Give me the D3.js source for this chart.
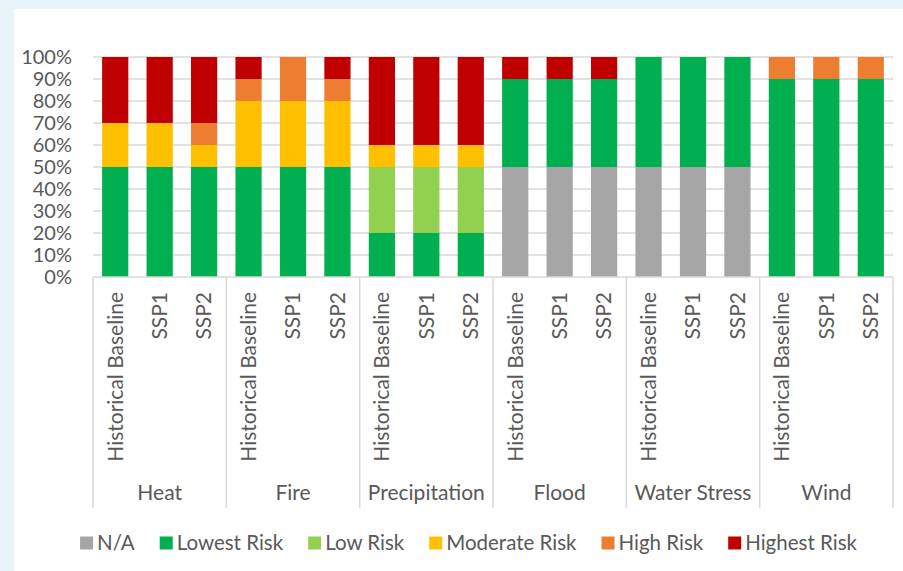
<!DOCTYPE html>
<html>
<head>
<meta charset="utf-8">
<script src="https://cdn.jsdelivr.net/npm/d3@7"></script>
<style>
  body { margin: 0; background: #e8f4fa; }
  svg { display: block; }
  text { font-family: Lato, "Open Sans", sans-serif; fill: #595959; }
</style>
</head>
<body>
<script>
// Hazards (outer axis level) and scenarios (inner axis level)
const hazards = ['Heat', 'Fire', 'Precipitation', 'Flood', 'Water Stress', 'Wind'];
const scenarios = ['Historical Baseline', 'SSP1', 'SSP2'];
const riskLevels = ['N/A', 'Lowest Risk', 'Low Risk', 'Moderate Risk', 'High Risk', 'Highest Risk'];
const riskColors = ['#a5a5a5', '#00b050', '#92d050', '#ffc000', '#ed7d31', '#c00000'];
const yTicks = [0, 0.1, 0.2, 0.3, 0.4, 0.5, 0.6, 0.7, 0.8, 0.9, 1];

// share of each risk level per bar, one array per level, bars in hazard/scenario order
const naShare      = [0, 0, 0,  0, 0, 0,  0, 0, 0,  0.5, 0.5, 0.5,  0.5, 0.5, 0.5,  0, 0, 0];
const lowestShare  = [0.5, 0.5, 0.5,  0.5, 0.5, 0.5,  0.2, 0.2, 0.2,  0.4, 0.4, 0.4,  0.5, 0.5, 0.5,  0.9, 0.9, 0.9];
const lowShare     = [0, 0, 0,  0, 0, 0,  0.3, 0.3, 0.3,  0, 0, 0,  0, 0, 0,  0, 0, 0];
const moderateShare = [0.2, 0.2, 0.1,  0.3, 0.3, 0.3,  0.1, 0.1, 0.1,  0, 0, 0,  0, 0, 0,  0, 0, 0];
const highShare    = [0, 0, 0.1,  0.1, 0.2, 0.1,  0, 0, 0,  0, 0, 0,  0, 0, 0,  0.1, 0.1, 0.1];
const highestShare = [0.3, 0.3, 0.3,  0.1, 0, 0.1,  0.4, 0.4, 0.4,  0.1, 0.1, 0.1,  0, 0, 0,  0, 0, 0];

const shares = [naShare, lowestShare, lowShare, moderateShare, highShare, highestShare];

const bars = [];
hazards.forEach((h, hi) => scenarios.forEach((s, si) => {
  const i = hi * scenarios.length + si;
  const row = { key: h + '|' + s, hazard: h, scenario: s };
  riskLevels.forEach((r, ri) => { row[r] = shares[ri][i]; });
  bars.push(row);
}));

const width = 903, height = 571;
const margin = { top: 57, right: 10, bottom: 294, left: 93 };
const plotRight = 893;
const fontSize = 21;

const svg = d3.select('body').append('svg')
  .attr('width', width)
  .attr('height', height);

// white chart panel
svg.append('rect')
  .attr('x', 14).attr('y', 9)
  .attr('width', width - 14).attr('height', height - 9)
  .attr('fill', '#fff');

const x = d3.scaleBand()
  .domain(bars.map(d => d.key))
  .range([margin.left, plotRight])
  .paddingInner(0.41)
  .paddingOuter(0.205);

const y = d3.scaleLinear()
  .domain([0, 1])
  .range([height - margin.bottom, margin.top]);

// gridlines
svg.append('g')
  .selectAll('line')
  .data(yTicks.slice(1))
  .join('line')
  .attr('x1', margin.left).attr('x2', plotRight)
  .attr('y1', d => y(d)).attr('y2', d => y(d))
  .attr('stroke', '#d9d9d9').attr('stroke-width', 1.3);

// y axis labels
const yAxis = svg.append('g')
  .attr('transform', `translate(${margin.left},0)`)
  .call(d3.axisLeft(y).tickValues(yTicks).tickFormat(d3.format('.0%')).tickSize(0).tickPadding(21));
yAxis.select('.domain').remove();
yAxis.selectAll('text')
  .attr('font-size', 20)
  .attr('fill', '#595959')
  .style('font-family', 'Lato, sans-serif');

// stacked bars
const stack = d3.stack().keys(riskLevels);
const layers = stack(bars);

svg.append('g')
  .selectAll('g')
  .data(layers)
  .join('g')
  .attr('fill', (d, i) => riskColors[i])
  .selectAll('rect')
  .data(d => d.filter(p => p[1] - p[0] > 0))
  .join('rect')
  .attr('x', d => x(d.data.key))
  .attr('width', x.bandwidth())
  .attr('y', d => y(d[1]))
  .attr('height', d => y(d[0]) - y(d[1]));

// category axis line
const axisY = y(0);
const axisBottom = 508;
svg.append('line')
  .attr('x1', margin.left).attr('x2', plotRight)
  .attr('y1', axisY).attr('y2', axisY)
  .attr('stroke', '#d9d9d9').attr('stroke-width', 1.3);

// group separators
const groupEdges = hazards.map((h, hi) => x(bars[hi * scenarios.length].key) - x.step() * x.paddingOuter());
groupEdges.push(plotRight);
svg.append('g')
  .selectAll('line')
  .data(groupEdges)
  .join('line')
  .attr('x1', d => d).attr('x2', d => d)
  .attr('y1', axisY).attr('y2', axisBottom)
  .attr('stroke', '#d9d9d9').attr('stroke-width', 1.5);

// scenario labels (rotated)
svg.append('g')
  .selectAll('text')
  .data(bars)
  .join('text')
  .attr('transform', d => `translate(${x(d.key) + x.bandwidth() / 2},292) rotate(-90)`)
  .attr('text-anchor', 'end')
  .attr('dy', '0.35em')
  .attr('font-size', fontSize)
  .text(d => d.scenario);

// hazard labels
svg.append('g')
  .selectAll('text')
  .data(hazards)
  .join('text')
  .attr('x', (d, i) => (groupEdges[i] + groupEdges[i + 1]) / 2)
  .attr('y', 500)
  .attr('text-anchor', 'middle')
  .attr('font-size', fontSize)
  .text(d => d);

// legend
const legend = svg.append('g');
const items = legend.selectAll('g')
  .data(riskLevels)
  .join('g');
items.append('rect')
  .attr('width', 13).attr('height', 13)
  .attr('y', -6.5)
  .attr('fill', (d, i) => riskColors[i]);
items.append('text')
  .attr('x', 17)
  .attr('dy', '0.35em')
  .attr('font-size', 20.5)
  .text(d => d);

let cursor = 0;
const gap = 25;
items.each(function () {
  const w = 17 + d3.select(this).select('text').node().getComputedTextLength();
  d3.select(this).attr('transform', `translate(${cursor},0)`);
  cursor += w + gap;
});
const legendWidth = cursor - gap;
legend.attr('transform', `translate(${468.5 - legendWidth / 2},543)`);
</script>
</body>
</html>
